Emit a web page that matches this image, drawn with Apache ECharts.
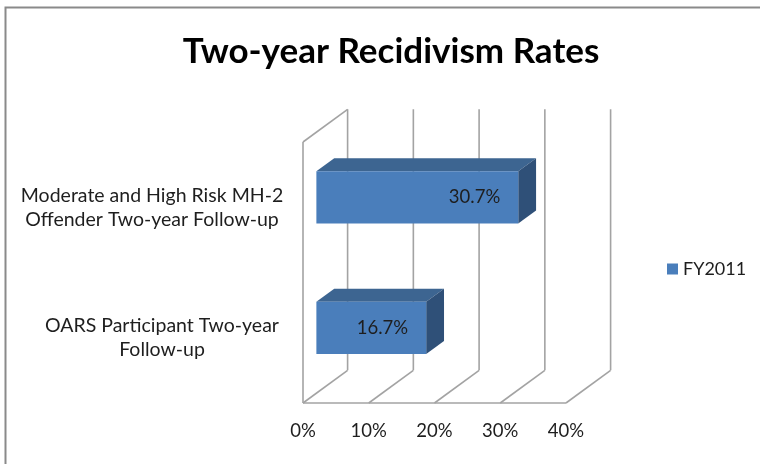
<!DOCTYPE html>
<html>
<head>
<meta charset="utf-8">
<script src="https://cdn.jsdelivr.net/npm/echarts@6/dist/echarts.min.js"></script>
<style>
  html, body { margin: 0; padding: 0; background: #fff; }
  #chart { width: 760px; height: 464px; }
</style>
</head>
<body>
<div id="chart"></div>
<script>
// Recidivism data (FY2011)
const categories = [
  'OARS Participant Two-year\nFollow-up',
  'Moderate and High Risk MH-2\nOffender Two-year Follow-up'
];
const values = [16.7, 30.7];
const seriesName = 'FY2011';
const xTicks = [0, 10, 20, 30, 40];
const titleText = 'Two-year Recidivism Rates';

// Oblique projection used for the 3-D look: full depth offset in pixels
const DEPTH_DX = 44.6;
const DEPTH_DY = -32.7;
// Bars sit between these fractions of the depth
const BAR_D0 = 0.3;
const BAR_D1 = 0.7;

const FONT = 'Lato, "Open Sans", sans-serif';
const TEXT_COLOR = '#1e1e1e';
const GRID_COLOR = '#a3a3a3';

const chart = echarts.init(document.getElementById('chart'), null, { renderer: 'canvas' });

function off(pt, d) {
  return [pt[0] + DEPTH_DX * d, pt[1] + DEPTH_DY * d];
}

function lineEl(a, b) {
  return {
    type: 'line',
    shape: { x1: a[0], y1: a[1], x2: b[0], y2: b[1] },
    style: { stroke: GRID_COLOR, lineWidth: 1.6 }
  };
}

// Walls, floor and gridlines of the 3-D plot box
function renderWalls(params, api) {
  const cs = params.coordSys;
  const v = api.value(0);
  const x = api.coord([v, 0])[0];
  const top = cs.y;
  const bottom = cs.y + cs.height;
  const children = [];
  const fb = [x, bottom];
  const bb = off(fb, 1);
  // floor diagonal and back-wall vertical
  children.push(lineEl(fb, bb));
  children.push(lineEl(bb, [bb[0], top + DEPTH_DY]));
  if (params.dataIndex === 0) {
    // left side wall
    children.push(lineEl([x, top], [x, bottom]));
    children.push(lineEl([x, top], off([x, top], 1)));
    // front edge of the floor
    children.push(lineEl([x, bottom], [cs.x + cs.width, bottom]));
  }
  return { type: 'group', children: children };
}

// 3-D bar: front face, top face and right side face
function renderBar(params, api) {
  const v = api.value(0);
  const c = api.value(1);
  const end = api.coord([v, c]);
  const start = api.coord([0, c]);
  const band = api.size([0, 1])[1];
  const h = band * 0.4;
  const x0 = start[0], x1 = end[0];
  const yT = end[1] - h / 2, yB = end[1] + h / 2;

  const fTL = off([x0, yT], BAR_D0), fTR = off([x1, yT], BAR_D0);
  const fBR = off([x1, yB], BAR_D0), fBL = off([x0, yB], BAR_D0);
  const bTL = off([x0, yT], BAR_D1), bTR = off([x1, yT], BAR_D1);
  const bBR = off([x1, yB], BAR_D1);

  return {
    type: 'group',
    children: [
      { type: 'polygon', shape: { points: [fTL, fTR, bTR, bTL] },
        style: { fill: '#3d6591' } },
      { type: 'polygon', shape: { points: [fTR, bTR, bBR, fBR] },
        style: { fill: '#2f5078' } },
      { type: 'polygon', shape: { points: [fTL, fTR, fBR, fBL] },
        style: { fill: '#4a7ebb' } },
      { type: 'text',
        style: {
          x: fTR[0] - 18, y: (fTR[1] + fBR[1]) / 2,
          text: v.toFixed(1) + '%',
          align: 'right', verticalAlign: 'middle',
          font: '18.5px ' + FONT, fill: TEXT_COLOR
        } }
    ]
  };
}

const option = {
  backgroundColor: '#fff',
  animation: false,
  title: {
    text: titleText,
    left: 386, textAlign: 'center',
    top: 29,
    textStyle: { fontFamily: FONT, fontWeight: 'bold', fontSize: 35, color: '#000' }
  },
  legend: {
    data: [seriesName],
    left: 667, top: 260,
    icon: 'rect', itemWidth: 11, itemHeight: 11,
    padding: 0,
    textStyle: { fontFamily: FONT, fontSize: 18, color: TEXT_COLOR }
  },
  grid: { left: 303, top: 142, width: 263, height: 261, containLabel: false },
  xAxis: {
    type: 'value', min: 0, max: 40, interval: 10,
    axisLine: { show: false }, axisTick: { show: false }, splitLine: { show: false },
    axisLabel: {
      formatter: '{value}%', margin: 19,
      fontFamily: FONT, fontSize: 18.5, color: TEXT_COLOR
    }
  },
  yAxis: {
    type: 'category', data: categories,
    axisLine: { show: false }, axisTick: { show: false }, splitLine: { show: false },
    axisLabel: {
      align: 'center', margin: 151, lineHeight: 24,
      fontFamily: FONT, fontSize: 19.5, color: TEXT_COLOR,
      formatter: function (val, idx) {
        const tag = idx === 0 ? 'b' : 'a';
        return val.split('\n').map(function (s) { return '{' + tag + '|' + s + '}'; }).join('\n');
      },
      rich: {
        a: { fontFamily: FONT, fontSize: 19.5, color: TEXT_COLOR, lineHeight: 24 },
        b: { fontFamily: FONT, fontSize: 19.5, color: TEXT_COLOR, lineHeight: 24, padding: [0, 0, 0, 20] }
      }
    }
  },
  graphic: [{
    type: 'rect', silent: true, z: -1,
    shape: { x: 5.5, y: 7.5, width: 800, height: 500 },
    style: { fill: null, stroke: '#8a8a8a', lineWidth: 2 }
  }],
  series: [
    {
      name: 'walls', type: 'custom', silent: true, z: 1,
      encode: { x: 0, y: 1 },
      data: xTicks.map(function (t) { return [t, 0]; }),
      renderItem: renderWalls
    },
    {
      name: seriesName, type: 'custom', z: 2,
      itemStyle: { color: '#4a7ebb' },
      encode: { x: 0, y: 1 },
      data: values.map(function (v, i) { return [v, i]; }),
      renderItem: renderBar
    }
  ]
};

chart.setOption(option);
</script>
</body>
</html>
